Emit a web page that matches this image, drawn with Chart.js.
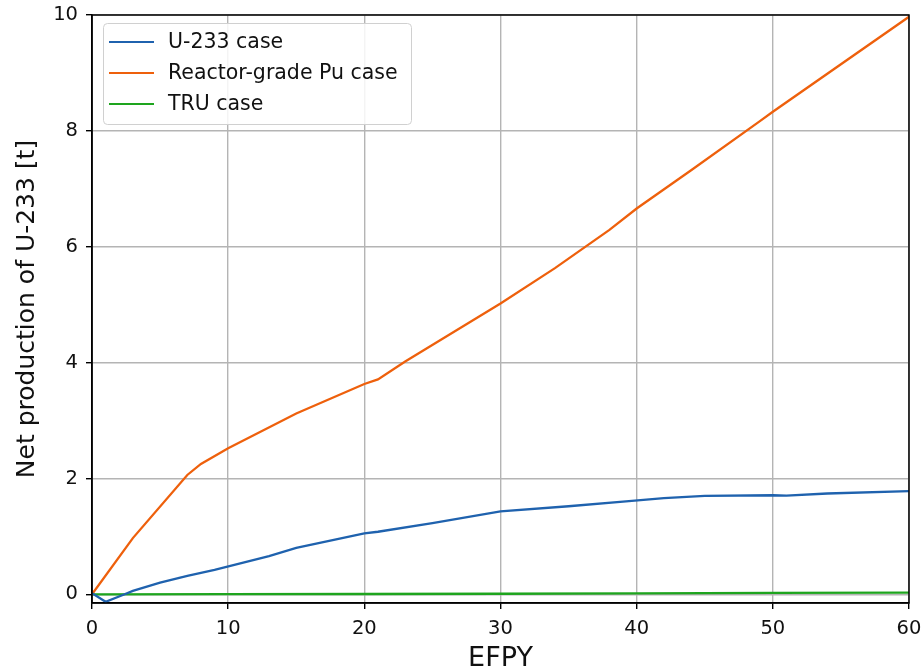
<!DOCTYPE html>
<html>
<head>
<meta charset="utf-8">
<script src="https://cdn.jsdelivr.net/npm/chart.js@4"></script>
<style>
  html, body { margin: 0; padding: 0; background: #fff; }
  #wrap { width: 923px; height: 672px; }
</style>
</head>
<body>
<div id="wrap"><canvas id="chart" width="923" height="672"></canvas></div>
<script>
// values
const u233X = [0, 1, 2.4, 3, 5, 7, 9, 13, 15, 20, 21, 25, 30, 35, 39, 42, 45, 50, 51, 54, 60];
const u233Y = [0.02, -0.13, 0, 0.06, 0.2, 0.32, 0.42, 0.66, 0.8, 1.05, 1.08, 1.23, 1.43, 1.52, 1.6, 1.66, 1.7, 1.71, 1.705, 1.74, 1.78];

const puX = [0, 3, 7, 8, 10, 15, 20, 21, 23, 30, 34, 38, 40, 44, 49, 50, 60];
const puY = [0, 0.97, 2.06, 2.25, 2.52, 3.12, 3.63, 3.71, 4.02, 5.02, 5.63, 6.29, 6.66, 7.32, 8.16, 8.33, 9.97];

const truX = [0, 10, 20, 30, 40, 50, 60];
const truY = [0, 0.002, 0.005, 0.01, 0.015, 0.025, 0.03];

const xTicks = [0, 10, 20, 30, 40, 50, 60];
const yTicks = [0, 2, 4, 6, 8, 10];

const FONT = "'DejaVu Sans', sans-serif";

function pts(xs, ys) {
  return xs.map((x, i) => ({ x: x, y: ys[i] }));
}

// legend box drawn inside the plot (upper left), like matplotlib
const innerLegend = {
  id: "innerLegend",
  afterDatasetsDraw(chart) {
    const ctx = chart.ctx;
    const a = chart.chartArea;
    const ds = chart.data.datasets;
    const x0 = a.left + 11, y0 = a.top + 8;
    const w = 308, h = 101;
    ctx.save();
    ctx.fillStyle = "rgba(255,255,255,0.85)";
    ctx.strokeStyle = "#d0d0d0";
    ctx.lineWidth = 1;
    ctx.beginPath();
    ctx.roundRect(x0 + 0.5, y0 + 0.5, w, h, 4);
    ctx.fill();
    ctx.stroke();
    ctx.font = "20.5px " + FONT;
    ctx.textBaseline = "middle";
    ds.forEach((d, i) => {
      const yy = y0 + 19 + i * 31;
      ctx.strokeStyle = d.borderColor;
      ctx.lineWidth = 2.2;
      ctx.beginPath();
      ctx.moveTo(x0 + 6, yy);
      ctx.lineTo(x0 + 51, yy);
      ctx.stroke();
      ctx.fillStyle = "#111";
      ctx.fillText(d.label, x0 + 65, yy + 1);
    });
    ctx.restore();
  }
};

// top and right spines
const frame = {
  id: "frame",
  afterDraw(chart) {
    const ctx = chart.ctx;
    const a = chart.chartArea;
    ctx.save();
    ctx.strokeStyle = "#000";
    ctx.lineWidth = 1.5;
    ctx.strokeRect(a.left, a.top, a.right - a.left, a.bottom - a.top);
    ctx.restore();
  }
};

new Chart(document.getElementById("chart"), {
  type: "line",
  data: {
    datasets: [
      { label: "U-233 case", data: pts(u233X, u233Y), borderColor: "#1f62ae" },
      { label: "Reactor-grade Pu case", data: pts(puX, puY), borderColor: "#ee600c" },
      { label: "TRU case", data: pts(truX, truY), borderColor: "#1ea51e" }
    ]
  },
  options: {
    responsive: false,
    animation: false,
    devicePixelRatio: 1,
    layout: { padding: { top: 15, right: 14, left: 0, bottom: 0 } },
    elements: {
      point: { radius: 0 },
      line: { borderWidth: 2.3, tension: 0, fill: false }
    },
    plugins: {
      legend: { display: false },
      tooltip: { enabled: false }
    },
    scales: {
      x: {
        type: "linear",
        min: 0,
        max: 60,
        afterBuildTicks: s => { s.ticks = xTicks.map(v => ({ value: v })); },
        afterFit: s => { s.height = 69; s.paddingLeft = 0; s.paddingRight = 0; },
        grid: { color: "#b4b4b4", lineWidth: 1.4, tickColor: "#000", tickLength: 6 },
        border: { display: true, color: "#000", width: 1.5 },
        ticks: { color: "#111", font: { family: FONT, size: 19.5 }, padding: 8, maxRotation: 0 },
        title: { display: true, text: "EFPY", color: "#111", font: { family: FONT, size: 27 }, padding: { top: 0, bottom: -3 } }
      },
      y: {
        type: "linear",
        min: -0.15,
        max: 10,
        afterBuildTicks: s => { s.ticks = yTicks.map(v => ({ value: v })); },
        afterFit: s => { s.width = 92; s.paddingTop = 0; s.paddingBottom = 0; },
        grid: { color: "#b4b4b4", lineWidth: 1.4, tickColor: "#000", tickLength: 6 },
        border: { display: true, color: "#000", width: 1.5 },
        ticks: { color: "#111", font: { family: FONT, size: 19.5 }, padding: 8 },
        title: { display: true, text: "Net production of U-233 [t]", color: "#111", font: { family: FONT, size: 25 }, padding: { top: 12, bottom: 0 } }
      }
    }
  },
  plugins: [innerLegend, frame]
});
</script>
</body>
</html>
